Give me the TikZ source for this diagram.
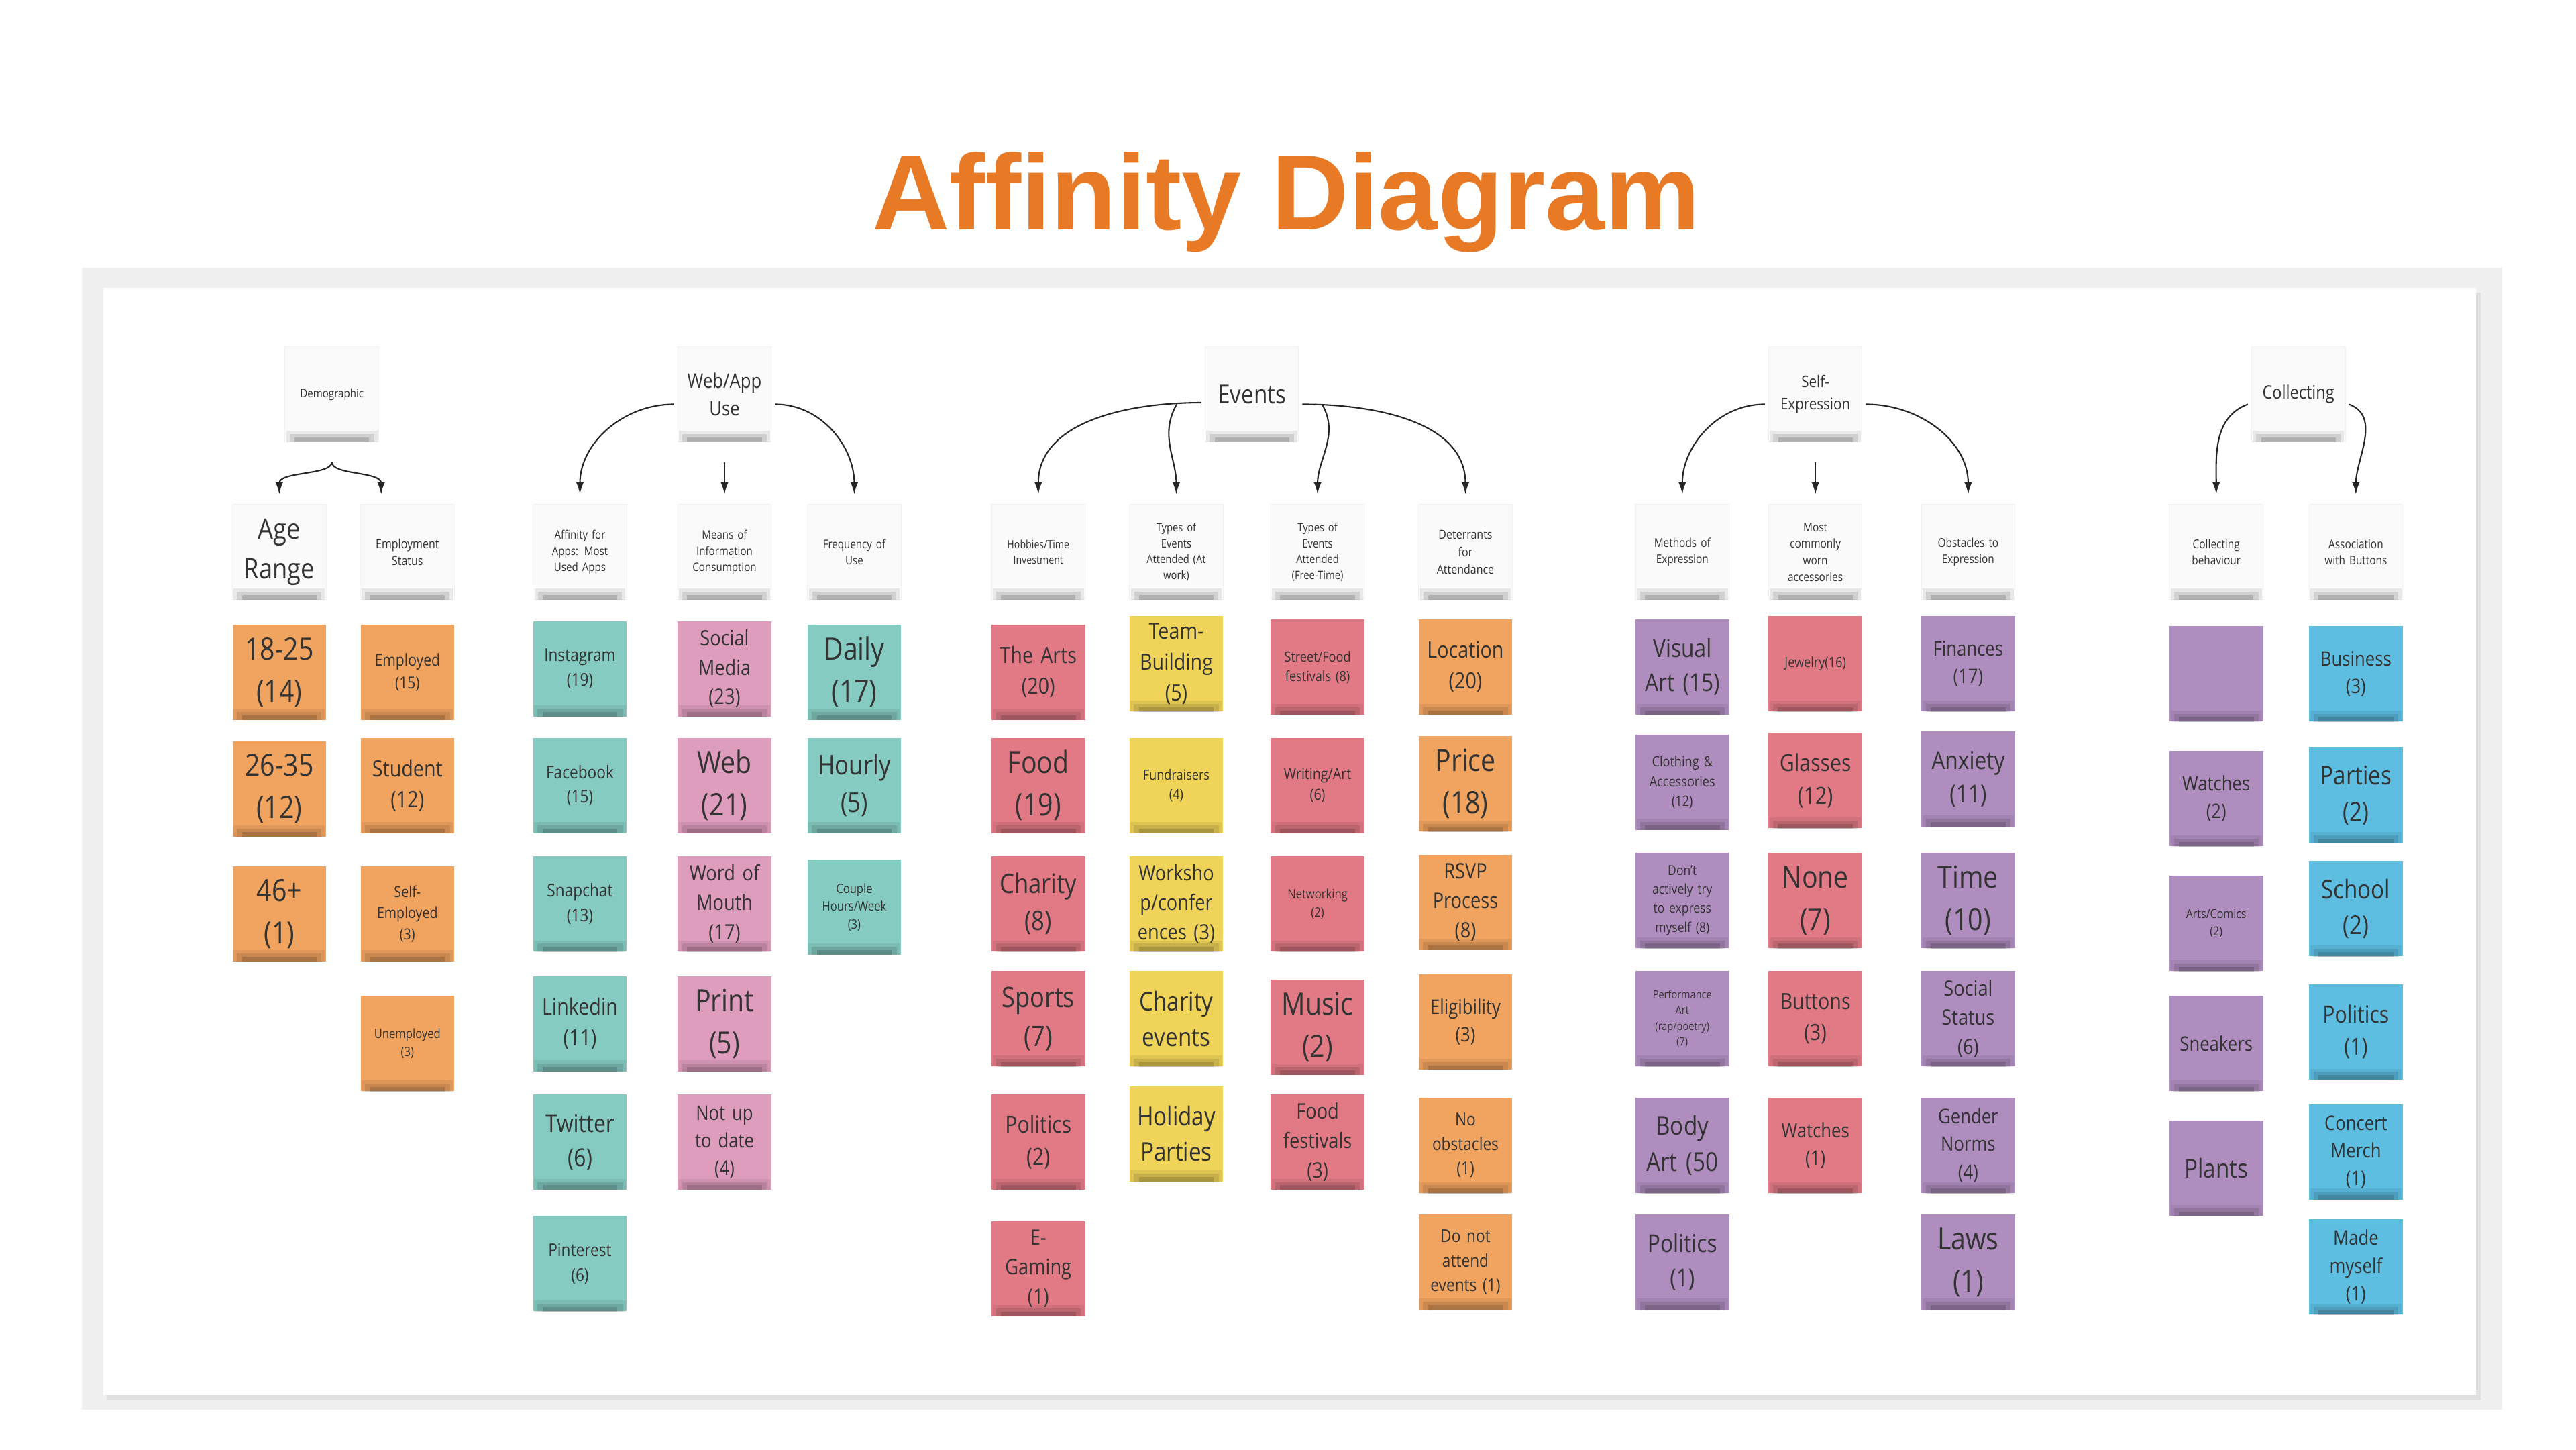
\documentclass[tikz,border=0pt]{standalone}
\usepackage{fontspec}
\setmainfont{Open Sans}[FakeStretch=0.86]
\newfontfamily\titlefont{Liberation Sans}[BoldFont={Liberation Sans Bold}]
\usetikzlibrary{calc,arrows.meta}
\definecolor{tor}{HTML}{E87A25}
\definecolor{cor}{HTML}{F0A460}
\definecolor{cte}{HTML}{86CBC1}
\definecolor{cpk}{HTML}{DF9DBE}
\definecolor{crd}{HTML}{E17A85}
\definecolor{cye}{HTML}{EFD459}
\definecolor{cpu}{HTML}{AF8DBF}
\definecolor{cbl}{HTML}{5DBEE2}
\definecolor{cwh}{HTML}{FAFAFA}
\definecolor{txt}{HTML}{333333}
\newcommand\fs[1]{\fontsize{#1}{\fpeval{1.38*#1}}\selectfont}
\tikzset{
 note/.style={minimum width=57*0.0245cm, minimum height=58*0.0245cm, text width=52*0.0245cm, align=center, inner sep=0pt, text=txt},
 arr/.style={line width=0.6pt, -{Latex[length=5pt,width=3.2pt]}, draw=black!85},
}
\newcommand\shd[1]{%
 \fill[black,opacity=.07] ($(#1.south west)+(1,0)$) rectangle ($(#1.south east)+(-1,-7)$);
 \fill[black,opacity=.10] ($(#1.south west)+(3,0)$) rectangle ($(#1.south east)+(-3,-5)$);
 \fill[black,opacity=.15] ($(#1.south west)+(6,0)$) rectangle ($(#1.south east)+(-6,-3)$);}
\newcommand\stk[6]{\shd{#1name}\node[note,fill=#4,font=\fs{#5}] (#1) at (#2,#3) {#6}; \shd{#1}}
\renewcommand\shd[1]{%
 \ifcsname pgf@sh@ns@#1\endcsname
 \fill[black,opacity=.07] ($(#1.south west)+(1,0)$) rectangle ($(#1.south east)+(-1,-7)$);
 \fill[black,opacity=.10] ($(#1.south west)+(3,0)$) rectangle ($(#1.south east)+(-3,-5)$);
 \fill[black,opacity=.15] ($(#1.south west)+(6,0)$) rectangle ($(#1.south east)+(-6,-3)$);\fi}
\newcommand\hdr[5]{\node[note,fill=cwh,draw=black!5,line width=0.3pt,font=\fs{#4}] (#1) at (#2,#3) {#5}; \shd{#1}}
\begin{document}
\begin{tikzpicture}[x=0.0245cm,y=-0.0245cm]
\useasboundingbox (0,0) rectangle (1568,882);
\fill[white] (0,0) rectangle (1568,882);
\fill[black!6] (50,163) rectangle (1523,858);
\fill[black!12] (65,178) rectangle (1510,852);
\fill[white] (63,175) rectangle (1507,849);
\node[font=\titlefont\bfseries\fontsize{45.5}{50}\selectfont, text=tor, anchor=base] (title) at (783,140) {Affinity Diagram};
% top headers
\hdr{demo}{202}{240}{5}{Demographic}
\hdr{web}{441}{240}{8.5}{Web/App\\Use}
\hdr{ev}{762}{240}{11}{Events}
\hdr{se}{1105}{240}{6.8}{Self-\\Expression}
\hdr{col}{1399}{240}{7.8}{Collecting}
% sub headers
\hdr{age}{170}{336}{12}{Age\\Range}
\hdr{emp}{248}{336}{5.3}{Employment\\Status}
\hdr{aff}{353}{336}{5}{Affinity for\\Apps: Most\\Used Apps}
\hdr{mean}{441}{336}{5}{Means of\\Information\\Consumption}
\hdr{freq}{520}{336}{5}{Frequency of\\Use}
\hdr{hob}{632}{336}{4.7}{Hobbies/Time\\Investment}
\hdr{twk}{716}{336}{4.9}{Types of\\Events\\Attended (At\\work)}
\hdr{tft}{802}{336}{4.9}{Types of\\Events\\Attended\\(Free-Time)}
\hdr{det}{892}{336}{5.3}{Deterrants\\for\\Attendance}
\hdr{meth}{1024}{336}{5.1}{Methods of\\Expression}
\hdr{worn}{1105}{336}{5.1}{Most\\commonly\\worn\\accessories}
\hdr{obs}{1198}{336}{5.1}{Obstacles to\\Expression}
\hdr{cbh}{1349}{336}{5.1}{Collecting\\behaviour}
\hdr{asb}{1434}{336}{5.1}{Association\\with Buttons}
% arrows
\coordinate (dbr) at ($(demo.south)+(0,12)$);
\draw[arr] (dbr) .. controls ($(dbr)+(0,8)$) and ($(age.north)+(0,-20)$) .. ($(age.north)+(0,-6)$);
\draw[arr] (dbr) .. controls ($(dbr)+(0,8)$) and ($(emp.north)+(-16,-20)$) .. ($(emp.north)+(-16,-6)$);
\draw[arr] ($(web.west)+(-2,6)$) to[out=180,in=90] ($(aff.north)+(0,-6)$);
\draw[arr] ($(web.south)+(0,12)$) -- ($(mean.north)+(0,-6)$);
\draw[arr] ($(web.east)+(2,6)$) to[out=0,in=90] ($(freq.north)+(0,-6)$);
\draw[arr] ($(ev.west)+(-2,5)$) to[out=180,in=90] ($(hob.north)+(0,-6)$);
\draw[arr] ($(ev.west)+(-17,6)$) to[out=240,in=90] ($(twk.north)+(0,-6)$);
\draw[arr] ($(ev.east)+(2,6)$) to[out=0,in=90] ($(det.north)+(0,-6)$);
\draw[arr] ($(ev.east)+(14,6)$) to[out=-60,in=90] ($(tft.north)+(0,-6)$);
\draw[arr] ($(se.west)+(-2,6)$) to[out=180,in=90] ($(meth.north)+(0,-6)$);
\draw[arr] ($(se.south)+(0,12)$) -- ($(worn.north)+(0,-6)$);
\draw[arr] ($(se.east)+(2,6)$) to[out=0,in=90] ($(obs.north)+(0,-6)$);
\draw[arr] ($(col.west)+(-2,6)$) to[out=200,in=90] ($(cbh.north)+(0,-6)$);
\draw[arr] ($(col.east)+(2,6)$) to[out=-20,in=90] ($(asb.north)+(0,-6)$);
% Age
\stk{a1}{170}{409}{cor}{13}{18-25\\(14)}
\stk{a2}{170}{480}{cor}{13}{26-35\\(12)}
\stk{a3}{170}{556}{cor}{13}{46+\\(1)}
% Employment
\stk{e1}{248}{409}{cor}{7}{Employed\\(15)}
\stk{e2}{248}{478}{cor}{9.5}{Student\\(12)}
\stk{e3}{248}{556}{cor}{6.5}{Self-\\Employed\\(3)}
\stk{e4}{248}{635}{cor}{5.5}{Unemployed\\(3)}
% Apps
\stk{p1}{353}{407}{cte}{7.5}{Instagram\\(19)}
\stk{p2}{353}{478}{cte}{7.5}{Facebook\\(15)}
\stk{p3}{353}{550}{cte}{7.5}{Snapchat\\(13)}
\stk{p4}{353}{623}{cte}{9.5}{Linkedin\\(11)}
\stk{p5}{353}{695}{cte}{10.5}{Twitter\\(6)}
\stk{p6}{353}{769}{cte}{7.5}{Pinterest\\(6)}
% Means
\stk{m1}{441}{407}{cpk}{9}{Social\\Media\\(23)}
\stk{m2}{441}{478}{cpk}{13}{Web\\(21)}
\stk{m3}{441}{550}{cpk}{9}{Word of\\Mouth\\(17)}
\stk{m4}{441}{623}{cpk}{13}{Print\\(5)}
\stk{m5}{441}{695}{cpk}{8.5}{Not up\\to date\\(4)}
% Freq
\stk{f1}{520}{409}{cte}{13}{Daily\\(17)}
\stk{f2}{520}{478}{cte}{11.5}{Hourly\\(5)}
\stk{f3}{520}{552}{cte}{5.5}{Couple\\Hours/Week\\(3)}
% Hobbies
\stk{h1}{632}{409}{crd}{9.5}{The Arts\\(20)}
\stk{h2}{632}{478}{crd}{13}{Food\\(19)}
\stk{h3}{632}{550}{crd}{11.5}{Charity\\(8)}
\stk{h4}{632}{620}{crd}{12}{Sports\\(7)}
\stk{h5}{632}{695}{crd}{10}{Politics\\(2)}
\stk{h6}{632}{772}{crd}{9}{E-\\Gaming\\(1)}
% Work events
\stk{w1}{716}{404}{cye}{9.5}{Team-\\Building\\(5)}
\stk{w2}{716}{478}{cye}{6}{Fundraisers\\(4)}
\stk{w3}{716}{550}{cye}{9}{Worksho\\p/confer\\ences (3)}
\stk{w4}{716}{620}{cye}{11}{Charity\\events}
\stk{w5}{716}{690}{cye}{11}{Holiday\\Parties}
% Free time
\stk{t1}{802}{406}{crd}{6}{Street/Food\\festivals (8)}
\stk{t2}{802}{478}{crd}{6.5}{Writing/Art\\(6)}
\stk{t3}{802}{550}{crd}{5.5}{Networking\\(2)}
\stk{t4}{802}{625}{crd}{13}{Music\\(2)}
\stk{t5}{802}{695}{crd}{9}{Food\\festivals\\(3)}
% Deterrants
\stk{d1}{892}{406}{cor}{9.5}{Location\\(20)}
\stk{d2}{892}{477}{cor}{13}{Price\\(18)}
\stk{d3}{892}{549}{cor}{9}{RSVP\\Process\\(8)}
\stk{d4}{892}{622}{cor}{8.5}{Eligibility\\(3)}
\stk{d5}{892}{697}{cor}{7.5}{No\\obstacles\\(1)}
\stk{d6}{892}{768}{cor}{7.5}{Do not\\attend\\events (1)}
% Methods
\stk{x1}{1024}{406}{cpu}{10.5}{Visual\\Art (15)}
\stk{x2}{1024}{476}{cpu}{6}{Clothing \&\\Accessories\\(12)}
\stk{x3}{1024}{548}{cpu}{5.8}{Don't\\actively try\\to express\\myself (8)}
\stk{x4}{1024}{620}{cpu}{4.8}{Performance\\Art\\(rap/poetry)\\(7)}
\stk{x5}{1024}{697}{cpu}{11}{Body\\Art (50}
\stk{x6}{1024}{768}{cpu}{10.5}{Politics\\(1)}
% Worn
\stk{y1}{1105}{404}{crd}{6}{Jewelry(16)}
\stk{y2}{1105}{475}{crd}{10}{Glasses\\(12)}
\stk{y3}{1105}{548}{crd}{13}{None\\(7)}
\stk{y4}{1105}{620}{crd}{9.5}{Buttons\\(3)}
\stk{y5}{1105}{697}{crd}{8.5}{Watches\\(1)}
% Obstacles
\stk{o1}{1198}{404}{cpu}{8.5}{Finances\\(17)}
\stk{o2}{1198}{474}{cpu}{10.5}{Anxiety\\(11)}
\stk{o3}{1198}{548}{cpu}{13}{Time\\(10)}
\stk{o4}{1198}{620}{cpu}{9}{Social\\Status\\(6)}
\stk{o5}{1198}{697}{cpu}{8.5}{Gender\\Norms\\(4)}
\stk{o6}{1198}{768}{cpu}{13}{Laws\\(1)}
% Collecting
\stk{c1}{1349}{410}{cpu}{8}{}
\stk{c2}{1349}{486}{cpu}{8.5}{Watches\\(2)}
\stk{c3}{1349}{562}{cpu}{5.3}{Arts/Comics\\(2)}
\stk{c4}{1349}{635}{cpu}{8.5}{Sneakers}
\stk{c5}{1349}{711}{cpu}{11}{Plants}
% Association
\stk{b1}{1434}{410}{cbl}{8.5}{Business\\(3)}
\stk{b2}{1434}{484}{cbl}{11}{Parties\\(2)}
\stk{b3}{1434}{553}{cbl}{11}{School\\(2)}
\stk{b4}{1434}{628}{cbl}{10}{Politics\\(1)}
\stk{b5}{1434}{701}{cbl}{8.5}{Concert\\Merch\\(1)}
\stk{b6}{1434}{771}{cbl}{8.5}{Made\\myself\\(1)}
\end{tikzpicture}
\end{document}
